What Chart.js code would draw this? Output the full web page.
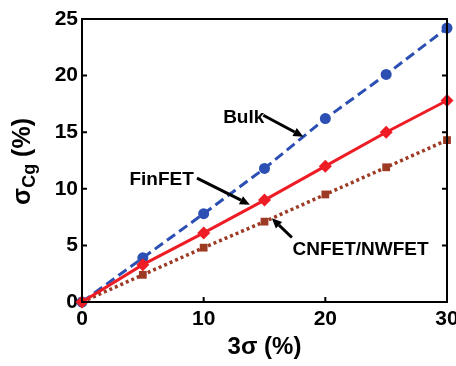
<!DOCTYPE html>
<html>
<head>
<meta charset="utf-8">
<script src="https://cdn.jsdelivr.net/npm/chart.js@4/dist/chart.umd.min.js"></script>
<style>
html,body{margin:0;padding:0;background:#fff;}
#wrap{width:456px;height:366px;position:relative;}
</style>
</head>
<body>
<div id="wrap"><canvas id="c" width="456" height="366"></canvas></div>
<script>
const sigma3 = [0, 5, 10, 15, 20, 25, 30];
const bulk = [0, 3.9, 7.8, 11.8, 16.2, 20.1, 24.2];
const finfet = [0, 3.3, 6.1, 9.0, 12.0, 15.0, 17.8];
const cnfet = [0, 2.4, 4.8, 7.1, 9.5, 11.9, 14.3];
const xTicks = [0, 10, 20, 30];
const yTicks = [0, 5, 10, 15, 20, 25];
const labels = [
  {text: 'Bulk', x: 11.6, y: 16.3, from: [14.9, 16.5], to: [18.2, 14.6]},
  {text: 'FinFET', x: 3.9, y: 10.8, from: [9.45, 10.95], to: [13.8, 8.6]},
  {text: 'CNFET/NWFET', x: 17.3, y: 4.6, from: [17.25, 5.7], to: [15.6, 7.4]}
];

const FONT = '"Liberation Sans", Arial, sans-serif';
const pts = arr => sigma3.map((x, i) => ({x: x, y: arr[i]}));

const decor = {
  id: 'decor',
  afterDatasetsDraw(chart) {
    const ctx = chart.ctx, a = chart.chartArea;
    const xs = chart.scales.x, ys = chart.scales.y;
    ctx.save();
    // frame
    ctx.strokeStyle = '#000';
    ctx.lineWidth = 2;
    ctx.strokeRect(a.left, a.top, a.right - a.left, a.bottom - a.top);
    // inward ticks
    ctx.lineWidth = 2;
    ctx.beginPath();
    yTicks.forEach(v => {
      if (v === 0 || v === 25) return;
      const p = ys.getPixelForValue(v);
      ctx.moveTo(a.left, p); ctx.lineTo(a.left + 5, p);
      ctx.moveTo(a.right, p); ctx.lineTo(a.right - 5, p);
    });
    xTicks.forEach(v => {
      if (v === 0 || v === 30) return;
      const p = xs.getPixelForValue(v);
      ctx.moveTo(p, a.bottom); ctx.lineTo(p, a.bottom - 5);
    });
    ctx.stroke();
    // annotations
    ctx.fillStyle = '#000';
    ctx.font = 'bold 19px ' + FONT;
    ctx.textBaseline = 'middle';
    ctx.textAlign = 'left';
    labels.forEach(l => {
      ctx.fillText(l.text, xs.getPixelForValue(l.x), ys.getPixelForValue(l.y));
      const x1 = xs.getPixelForValue(l.from[0]), y1 = ys.getPixelForValue(l.from[1]);
      const x2 = xs.getPixelForValue(l.to[0]), y2 = ys.getPixelForValue(l.to[1]);
      const ang = Math.atan2(y2 - y1, x2 - x1);
      const hl = 10, hw = 4.5;
      const bx = x2 - hl * Math.cos(ang), by = y2 - hl * Math.sin(ang);
      ctx.lineWidth = 3;
      ctx.beginPath();
      ctx.moveTo(x1, y1); ctx.lineTo(bx, by);
      ctx.stroke();
      ctx.beginPath();
      ctx.moveTo(x2, y2);
      ctx.lineTo(bx + hw * Math.sin(ang), by - hw * Math.cos(ang));
      ctx.lineTo(bx - hw * Math.sin(ang), by + hw * Math.cos(ang));
      ctx.closePath();
      ctx.fill();
    });
    // y title: σCg (%)
    const cy = (a.top + a.bottom) / 2 + 1;
    ctx.translate(21, cy);
    ctx.rotate(-Math.PI / 2);
    const f1 = 'bold 25px ' + FONT, f2 = 'bold 18px ' + FONT;
    ctx.font = f1; const w1 = ctx.measureText('σ').width;
    ctx.font = f2; const w2 = ctx.measureText('Cg').width;
    ctx.font = f1; const w3 = ctx.measureText(' (%)').width;
    let x0 = -(w1 + w2 + w3) / 2;
    ctx.textBaseline = 'alphabetic';
    ctx.font = f1; ctx.fillText('σ', x0, 9);
    ctx.font = f2; ctx.fillText('Cg', x0 + w1, 14);
    ctx.font = f1; ctx.fillText(' (%)', x0 + w1 + w2, 9);
    ctx.restore();
  }
};

new Chart(document.getElementById('c'), {
  type: 'line',
  data: {
    datasets: [
      {label: 'FinFET', data: pts(finfet), borderColor: '#ee1c25', backgroundColor: '#ee1c25',
       borderWidth: 3, pointStyle: 'rectRot', pointRadius: 6.5, pointBorderWidth: 0, clip: false},
      {label: 'Bulk', data: pts(bulk), borderColor: '#2b4fb3', backgroundColor: '#2b4fb3',
       borderWidth: 3, borderDash: [10, 5], pointStyle: 'circle', pointRadius: 5.5, pointBorderWidth: 0, clip: false},
      {label: 'CNFET/NWFET', data: pts(cnfet), borderColor: '#9c3a24', backgroundColor: '#9c3a24',
       borderWidth: 3.5, borderDash: [3, 3], pointStyle: 'rect', pointRadius: 5.5, pointBorderWidth: 0, clip: false}
    ]
  },
  options: {
    responsive: false,
    animation: false,
    layout: {padding: {top: 19, right: 9, left: 0, bottom: 0}},
    plugins: {legend: {display: false}, tooltip: {enabled: false}},
    scales: {
      x: {
        type: 'linear', min: 0, max: 30,
        afterBuildTicks: s => { s.ticks = xTicks.map(v => ({value: v})); },
        afterFit: s => { s.height = 64; s.paddingLeft = 0; s.paddingRight = 0; },
        grid: {display: false, drawTicks: false},
        border: {display: false},
        ticks: {color: '#000', font: {family: FONT, size: 21, weight: 'bold'}, padding: 5, maxRotation: 0, autoSkip: false},
        title: {display: true, text: '3σ (%)', color: '#000', font: {family: FONT, size: 24, weight: 'bold'}, padding: {top: 0, bottom: 4}}
      },
      y: {
        min: 0, max: 25,
        afterBuildTicks: s => { s.ticks = yTicks.map(v => ({value: v})); },
        afterFit: s => { s.width = 82; s.paddingTop = 0; s.paddingBottom = 0; },
        grid: {display: false, drawTicks: false},
        border: {display: false},
        ticks: {color: '#000', font: {family: FONT, size: 21, weight: 'bold'}, padding: 4}
      }
    }
  },
  plugins: [decor]
});
</script>
</body>
</html>
